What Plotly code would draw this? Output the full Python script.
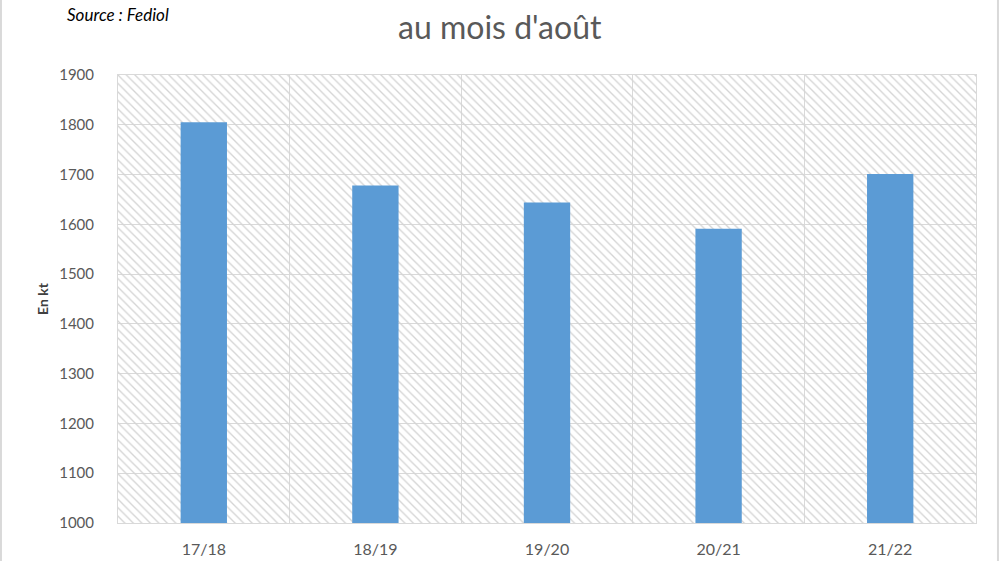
import plotly.graph_objects as go

categories = ["17/18", "18/19", "19/20", "20/21", "21/22"]
values = [1805, 1678, 1644, 1591, 1701]
y_min, y_max, y_step = 1000, 1900, 100

title_text = "au mois d'août"
source_text = "Source : Fediol"
y_title = "En kt"

fig = go.Figure()

# hatched plot-area background (spans full axis range)
fig.add_trace(go.Bar(
    x=categories,
    y=[y_max - y_min] * len(categories),
    base=[y_min] * len(categories),
    width=1,
    marker=dict(
        color="rgba(0,0,0,0)",
        line=dict(width=0),
        pattern=dict(shape="\\", fillmode="replace", fgcolor="#d4d4d4",
                     bgcolor="rgba(0,0,0,0)", size=6, solidity=0.22),
    ),
    hoverinfo="skip",
    showlegend=False,
))

fig.add_trace(go.Bar(
    x=categories,
    y=[v - y_min for v in values],
    base=[y_min] * len(values),
    width=0.27,
    marker=dict(color="#5B9BD5", line=dict(width=0)),
    showlegend=False,
))

fig.update_layout(
    width=1000, height=561,
    margin=dict(l=118, r=24, t=75, b=38),
    barmode="overlay",
    paper_bgcolor="white",
    plot_bgcolor="white",
    font=dict(family="Lato, Noto Sans, sans-serif", color="#595959", size=15),
    xaxis=dict(
        type="category",
        automargin=False,
        showgrid=True, gridcolor="#d9d9d9", gridwidth=1,
        tickson="boundaries", ticks="",
        showline=True, linecolor="#d9d9d9", linewidth=1, mirror=True,
        ticklabelstandoff=12,
        tickfont=dict(size=16, color="#595959"),
        range=[-0.5, len(categories) - 0.5],
    ),
    yaxis=dict(
        automargin=False,
        range=[y_min, y_max], dtick=y_step, tick0=y_min,
        showgrid=True, gridcolor="#d9d9d9", gridwidth=1,
        showline=True, linecolor="#d9d9d9", linewidth=1, mirror=True,
        zeroline=False, ticks="",
        ticklabelstandoff=20,
        tickfont=dict(size=15, color="#595959"),
    ),
    shapes=[
        dict(type="line", xref="paper", yref="paper", x0=-0.1364, x1=-0.1364,
             y0=-0.1, y1=1.2, line=dict(color="#d9d9d9", width=2)),
        dict(type="line", xref="paper", yref="paper", x0=1.0256, x1=1.0256,
             y0=-0.1, y1=1.2, line=dict(color="#d9d9d9", width=2)),
    ],
    annotations=[
        dict(text=title_text, xref="paper", yref="paper", x=(500 - 118) / 858,
             y=1 + (75 - 27) / 448, xanchor="center", yanchor="middle",
             showarrow=False, font=dict(size=32, color="#595959",
                                        family="Lato, Noto Sans, sans-serif")),
        dict(text="<i>" + source_text + "</i>", xref="paper", yref="paper",
             x=(65 - 118) / 858, y=1 + (75 - 14) / 448, xanchor="left",
             yanchor="middle", showarrow=False,
             font=dict(size=17, color="#000000", family="Lato, Noto Sans, sans-serif")),
        dict(text="<b>" + y_title + "</b>", xref="paper", yref="paper",
             x=(42 - 118) / 858, y=0.5, xanchor="center", yanchor="middle",
             textangle=-90, showarrow=False,
             font=dict(size=14, color="#404040", family="Lato, Noto Sans, sans-serif")),
    ],
)

fig.write_html("out.html", config={"displayModeBar": False},
               post_script="document.body.style.margin='0';")
